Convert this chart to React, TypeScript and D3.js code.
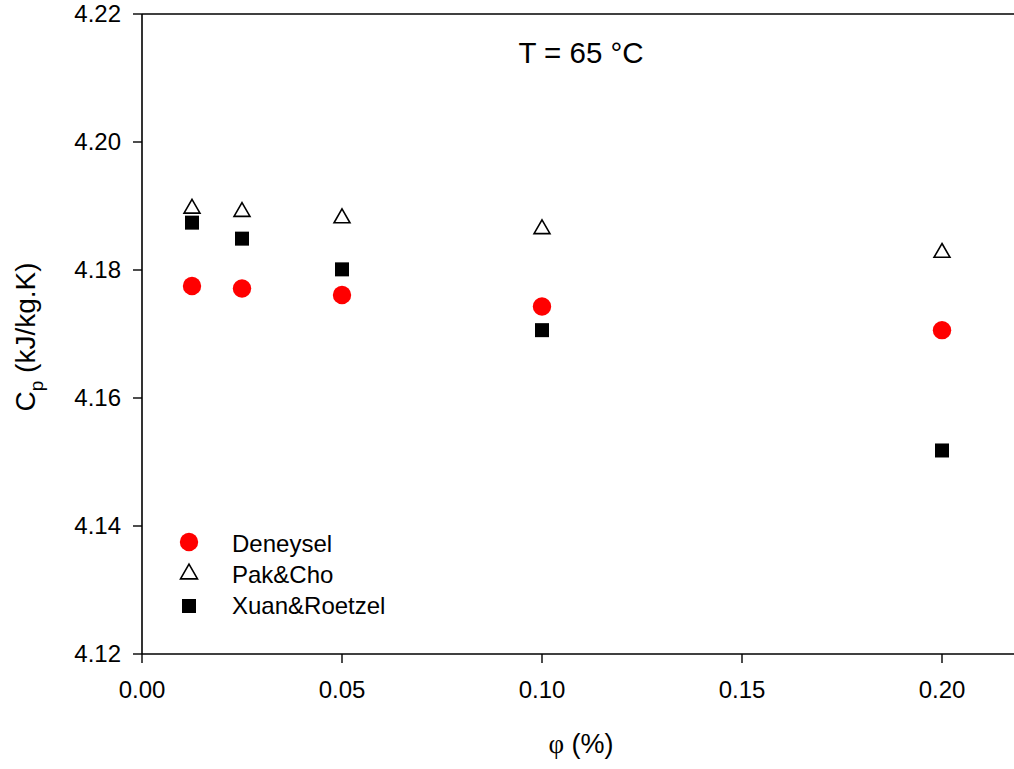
import React from "react";
import * as d3 from "d3";

const phiValues = [0.0125, 0.025, 0.05, 0.1, 0.2];
const deneysel = [4.1775, 4.1771, 4.1761, 4.1743, 4.1706];
const pakCho = [4.1896, 4.1891, 4.1881, 4.1864, 4.1827];
const xuanRoetzel = [4.1874, 4.1849, 4.1801, 4.1706, 4.1518];
const xTicks = [0, 0.05, 0.1, 0.15, 0.2];
const yTicks = [4.12, 4.14, 4.16, 4.18, 4.2, 4.22];
const legendLabels = ["Deneysel", "Pak&Cho", "Xuan&Roetzel"];

const W = 1014;
const H = 769;
const FONT = "'Liberation Sans', Arial, sans-serif";

export default function App() {
  const x = d3.scaleLinear().domain([0, 0.22]).range([142, 1022]);
  const y = d3.scaleLinear().domain([4.12, 4.22]).range([654, 14]);
  const tri = d3.symbol().type(d3.symbolTriangle).size(110)();
  const triLegend = d3.symbol().type(d3.symbolTriangle).size(125)();
  const sq = 14;

  return (
    <svg
      width={W}
      height={H}
      style={{ position: "absolute", left: 0, top: 0, background: "#fff" }}
      fontFamily={FONT}
    >
      {/* axes frame */}
      <g stroke="#000" strokeWidth={1.6} fill="none">
        <line x1={x(0)} x2={x(0)} y1={y(4.22)} y2={y(4.12)} />
        <line x1={x(0)} x2={x(0.22)} y1={y(4.12)} y2={y(4.12)} />
        <line x1={x(0)} x2={x(0.22)} y1={y(4.22)} y2={y(4.22)} />
        <line x1={x(0.22)} x2={x(0.22)} y1={y(4.22)} y2={y(4.12)} />
      </g>
      {/* x ticks */}
      {xTicks.map((t) => (
        <g key={"xt" + t}>
          <line x1={x(t)} x2={x(t)} y1={y(4.12)} y2={y(4.12) + 9} stroke="#000" strokeWidth={1.4} />
          <text x={x(t)} y={y(4.12) + 44} textAnchor="middle" fontSize={24}>
            {d3.format(".2f")(t)}
          </text>
        </g>
      ))}
      {/* y ticks */}
      {yTicks.map((t) => (
        <g key={"yt" + t}>
          <line x1={x(0) - 9} x2={x(0)} y1={y(t)} y2={y(t)} stroke="#000" strokeWidth={1.4} />
          <text x={x(0) - 21} y={y(t) + 8} textAnchor="end" fontSize={24}>
            {d3.format(".2f")(t)}
          </text>
        </g>
      ))}
      {/* axis titles */}
      <text
        transform={`translate(35, 337) rotate(-90)`}
        textAnchor="middle"
        fontSize={28}
      >
        C<tspan fontSize={19} dy={8}>p</tspan>
        <tspan dy={-8}> (kJ/kg.K)</tspan>
      </text>
      <text x={581} y={753} textAnchor="middle" fontSize={27}>
        <tspan fontFamily="'Liberation Serif', 'DejaVu Serif', serif">φ</tspan> (%)
      </text>
      <text x={581} y={63} textAnchor="middle" fontSize={29.5}>
        T = 65 °C
      </text>

      {/* data */}
      {phiValues.map((p, i) => (
        <path
          key={"pc" + i}
          d={tri as string}
          transform={`translate(${x(p)}, ${y(pakCho[i])})`}
          fill="#fff"
          stroke="#000"
          strokeWidth={1.6}
        />
      ))}
      {phiValues.map((p, i) => (
        <rect
          key={"xr" + i}
          x={x(p) - sq / 2}
          y={y(xuanRoetzel[i]) - sq / 2}
          width={sq}
          height={sq}
          fill="#000"
        />
      ))}
      {phiValues.map((p, i) => (
        <circle key={"dn" + i} cx={x(p)} cy={y(deneysel[i])} r={9.2} fill="#ff0000" />
      ))}

      {/* legend */}
      <g>
        <circle cx={189} cy={542} r={9.2} fill="#ff0000" />
        <path d={triLegend as string} transform="translate(189, 574)" fill="#fff" stroke="#000" strokeWidth={1.6} />
        <rect x={189 - 7} y={606 - 7} width={14} height={14} fill="#000" />
        {legendLabels.map((l, i) => (
          <text key={l} x={232} y={551.5 + i * 31} fontSize={24}>
            {l}
          </text>
        ))}
      </g>
    </svg>
  );
}
